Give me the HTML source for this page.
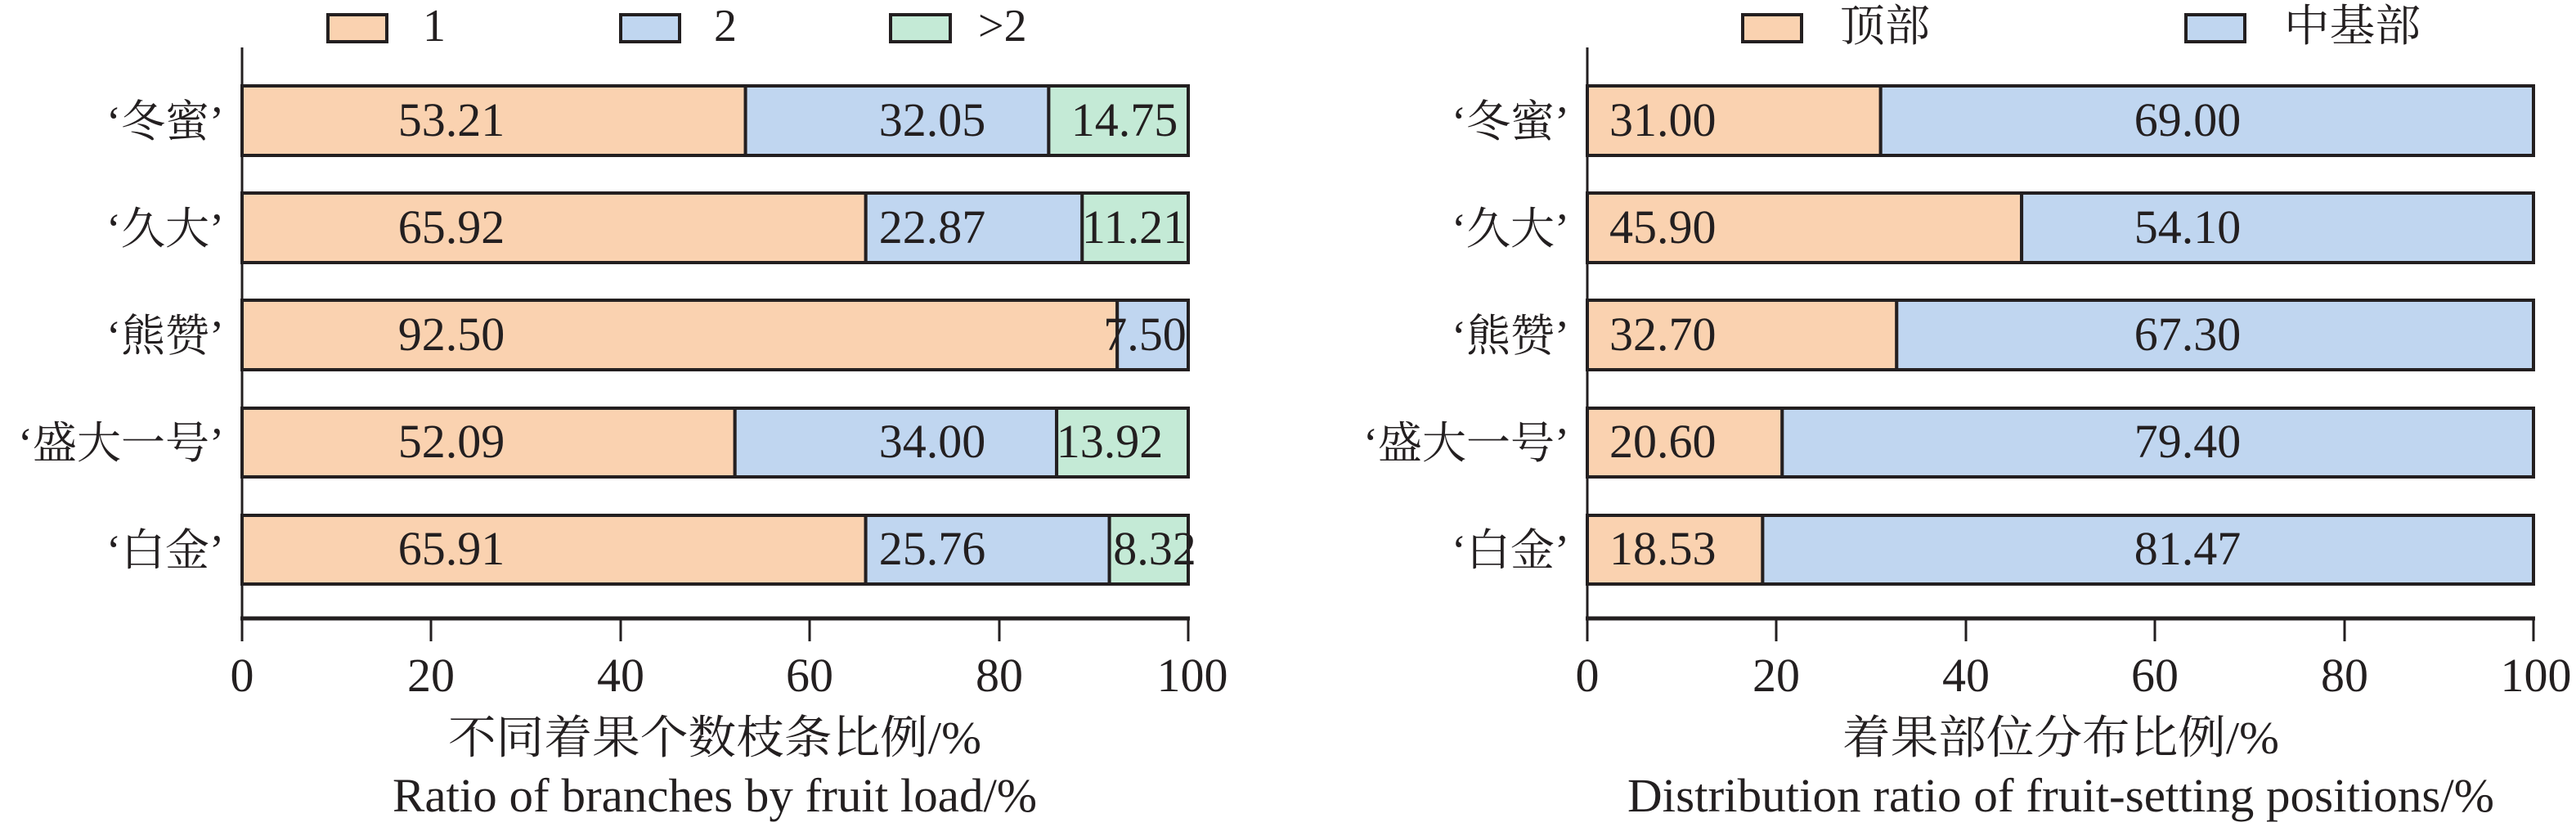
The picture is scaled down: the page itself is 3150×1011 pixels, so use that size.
<!DOCTYPE html>
<html><head><meta charset="utf-8"><style>
html,body{margin:0;padding:0;background:#fff;}
svg{display:block;}
text{font-family:"Liberation Serif","Noto Serif CJK SC",serif;fill:#231f20;}
.c{font-family:"Liberation Serif","Noto Serif CJK SC","Noto Sans CJK SC",serif;}
</style></head><body>
<svg width="3150" height="1011" viewBox="0 0 3150 1011" xmlns="http://www.w3.org/2000/svg">
<g stroke="#231f20" stroke-width="4">
<!-- LEFT legend -->
<rect x="401" y="18" width="72" height="33" fill="#FAD2B0"/>
<rect x="759" y="18" width="72" height="33" fill="#C0D6F0"/>
<rect x="1089" y="18" width="73" height="33" fill="#C4EAD6"/>
<!-- LEFT axes -->
<line x1="296" y1="58" x2="296" y2="783" stroke-width="3"/>
<line x1="294" y1="756" x2="1455" y2="756" stroke-width="5"/>
<g stroke-width="3">
<line x1="296" y1="756" x2="296" y2="784"/><line x1="527" y1="756" x2="527" y2="784"/>
<line x1="759" y1="756" x2="759" y2="784"/><line x1="990" y1="756" x2="990" y2="784"/>
<line x1="1222" y1="756" x2="1222" y2="784"/><line x1="1453" y1="756" x2="1453" y2="784"/>
</g>
<!-- LEFT bars -->
<rect x="296" y="105" width="615.6" height="85" fill="#FAD2B0"/>
<rect x="911.6" y="105" width="370.8" height="85" fill="#C0D6F0"/>
<rect x="1282.4" y="105" width="170.6" height="85" fill="#C4EAD6"/>

<rect x="296" y="236" width="762.7" height="85" fill="#FAD2B0"/>
<rect x="1058.7" y="236" width="264.6" height="85" fill="#C0D6F0"/>
<rect x="1323.3" y="236" width="129.7" height="85" fill="#C4EAD6"/>

<rect x="296" y="367" width="1070.2" height="85" fill="#FAD2B0"/>
<rect x="1366.2" y="367" width="86.8" height="85" fill="#C0D6F0"/>

<rect x="296" y="499" width="602.7" height="84" fill="#FAD2B0"/>
<rect x="898.7" y="499" width="393.4" height="84" fill="#C0D6F0"/>
<rect x="1292.1" y="499" width="160.9" height="84" fill="#C4EAD6"/>

<rect x="296" y="630" width="762.6" height="84" fill="#FAD2B0"/>
<rect x="1058.6" y="630" width="298.0" height="84" fill="#C0D6F0"/>
<rect x="1356.6" y="630" width="96.4" height="84" fill="#C4EAD6"/>

<!-- RIGHT legend -->
<rect x="2131" y="18" width="72" height="33" fill="#FAD2B0"/>
<rect x="2673" y="18" width="72" height="33" fill="#C0D6F0"/>
<!-- RIGHT axes -->
<line x1="1941" y1="58" x2="1941" y2="783" stroke-width="3"/>
<line x1="1939" y1="756" x2="3100" y2="756" stroke-width="5"/>
<g stroke-width="3">
<line x1="1941" y1="756" x2="1941" y2="784"/><line x1="2172" y1="756" x2="2172" y2="784"/>
<line x1="2404" y1="756" x2="2404" y2="784"/><line x1="2635" y1="756" x2="2635" y2="784"/>
<line x1="2867" y1="756" x2="2867" y2="784"/><line x1="3098" y1="756" x2="3098" y2="784"/>
</g>
<rect x="1941" y="105" width="358.7" height="85" fill="#FAD2B0"/>
<rect x="2299.7" y="105" width="798.3" height="85" fill="#C0D6F0"/>
<rect x="1941" y="236" width="531.1" height="85" fill="#FAD2B0"/>
<rect x="2472.1" y="236" width="625.9" height="85" fill="#C0D6F0"/>
<rect x="1941" y="367" width="378.3" height="85" fill="#FAD2B0"/>
<rect x="2319.3" y="367" width="778.7" height="85" fill="#C0D6F0"/>
<rect x="1941" y="499" width="238.3" height="84" fill="#FAD2B0"/>
<rect x="2179.3" y="499" width="918.7" height="84" fill="#C0D6F0"/>
<rect x="1941" y="630" width="214.4" height="84" fill="#FAD2B0"/>
<rect x="2155.4" y="630" width="942.6" height="84" fill="#C0D6F0"/>
</g>

<g font-size="58">
<!-- left legend text -->
<text x="517" y="50" font-size="56">1</text>
<text x="873" y="50" font-size="56">2</text>
<text x="1196" y="50" font-size="56">&gt;2</text>
<!-- left values -->
<g text-anchor="middle">
<text x="552" y="166">53.21</text><text x="1140" y="166">32.05</text><text x="1375" y="166">14.75</text>
<text x="552" y="297">65.92</text><text x="1140" y="297">22.87</text><text x="1387" y="297">11.21</text>
<text x="552" y="428">92.50</text><text x="1400" y="428">7.50</text>
<text x="552" y="559">52.09</text><text x="1140" y="559">34.00</text><text x="1357" y="559">13.92</text>
<text x="552" y="690">65.91</text><text x="1140" y="690">25.76</text><text x="1412" y="690">8.32</text>
<!-- left ticks -->
<text x="296" y="845">0</text><text x="527" y="845">20</text><text x="759" y="845">40</text>
<text x="990" y="845">60</text><text x="1222" y="845">80</text><text x="1458" y="845">100</text>
<!-- right ticks -->
<text x="1941" y="845">0</text><text x="2172" y="845">20</text><text x="2404" y="845">40</text>
<text x="2635" y="845">60</text><text x="2867" y="845">80</text><text x="3101" y="845">100</text>
<!-- right second segment -->
<text x="2675" y="166">69.00</text><text x="2675" y="297">54.10</text><text x="2675" y="428">67.30</text>
<text x="2675" y="559">79.40</text><text x="2675" y="690">81.47</text>
</g>
<text x="1968" y="166">31.00</text><text x="1968" y="297">45.90</text><text x="1968" y="428">32.70</text>
<text x="1968" y="559">20.60</text><text x="1968" y="690">18.53</text>
</g>

<!-- category labels -->
<g class="c" font-size="54" text-anchor="end">
<text class="c" x="274" y="167">‘冬蜜’</text>
<text class="c" x="274" y="298">‘久大’</text>
<text class="c" x="274" y="429">‘熊赞’</text>
<text class="c" x="274" y="560">‘盛大一号’</text>
<text class="c" x="274" y="691">‘白金’</text>
<text class="c" x="1919" y="167">‘冬蜜’</text>
<text class="c" x="1919" y="298">‘久大’</text>
<text class="c" x="1919" y="429">‘熊赞’</text>
<text class="c" x="1919" y="560">‘盛大一号’</text>
<text class="c" x="1919" y="691">‘白金’</text>
</g>
<g class="c" font-size="54">
<text class="c" x="2250" y="50" textLength="110" lengthAdjust="spacingAndGlyphs">顶部</text>
<text class="c" x="2793" y="50" textLength="167" lengthAdjust="spacingAndGlyphs">中基部</text>
</g>
<!-- titles -->
<text class="c" x="548" y="921" font-size="56" textLength="652" lengthAdjust="spacingAndGlyphs">不同着果个数枝条比例/%</text>
<text x="480" y="992" font-size="58" textLength="788" lengthAdjust="spacingAndGlyphs">Ratio of branches by fruit load/%</text>
<text class="c" x="2253" y="921" font-size="56" textLength="534" lengthAdjust="spacingAndGlyphs">着果部位分布比例/%</text>
<text x="1990" y="992" font-size="58" textLength="1060" lengthAdjust="spacingAndGlyphs">Distribution ratio of fruit-setting positions/%</text>
</svg>
</body></html>
